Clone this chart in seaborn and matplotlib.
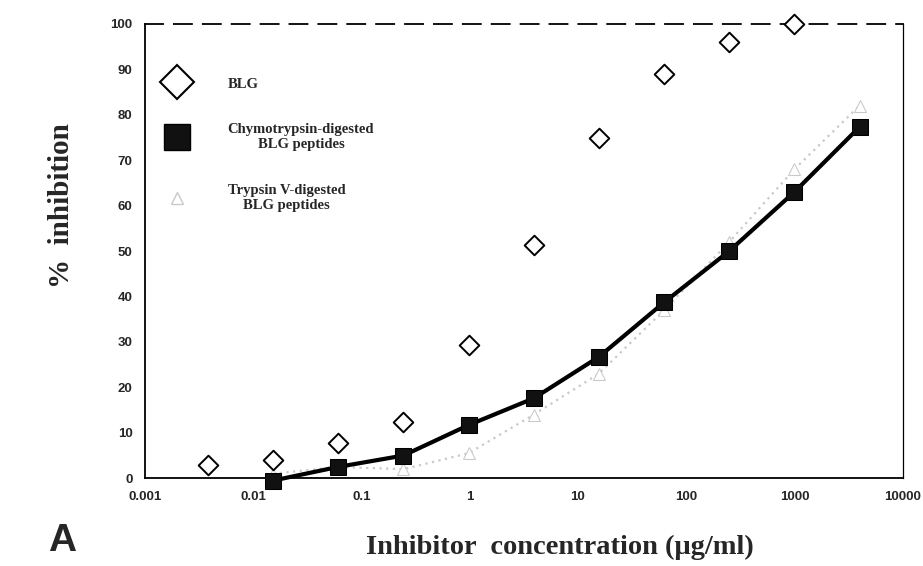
"""
Inhibition curves for BLG and digested BLG peptides (panel A).
"""

import matplotlib
matplotlib.use("Agg")

import matplotlib.pyplot as plt
import seaborn as sns
from matplotlib.lines import Line2D

# Data (4-fold dilution series, ug/ml)
blg_conc = [0.0038, 0.0153, 0.061, 0.244, 0.977, 3.91, 15.6, 62.5, 250, 1000]
blg_inhib = [2.9, 4.0, 7.7, 12.3, 29.3, 51.3, 74.9, 89.0, 96.0, 100.0]

pep_conc = [0.0153, 0.061, 0.244, 0.977, 3.91, 15.6, 62.5, 250, 1000, 4000]
chymo_inhib = [-0.5, 2.5, 5.0, 11.7, 17.6, 26.7, 38.7, 50.0, 63.0, 77.3]
trypsin_inhib = [1.0, 2.5, 2.0, 5.5, 14.0, 23.0, 37.0, 52.0, 68.0, 82.0]

x_ticks = [0.001, 0.01, 0.1, 1, 10, 100, 1000, 10000]
x_tick_labels = ["0.001", "0.01", "0.1", "1", "10", "100", "1000", "10000"]
y_ticks = list(range(0, 101, 10))

TRYPSIN_GREY = "#c9c9c9"

sns.set_style("white")
plt.rcParams["font.family"] = ["Liberation Sans", "DejaVu Sans"]

fig = plt.figure(figsize=(9.23, 5.66), dpi=100)
ax = fig.add_axes([0.157, 0.155, 0.821, 0.803])

# Trypsin V-digested peptides (faint grey dotted)
sns.lineplot(
    x=pep_conc, y=trypsin_inhib, ax=ax, color=TRYPSIN_GREY,
    linestyle=(0, (1, 2)), linewidth=1.6, marker="^", markersize=8,
    markerfacecolor="white", markeredgecolor=TRYPSIN_GREY, zorder=2,
    clip_on=False,
)

# Chymotrypsin-digested peptides (black squares + solid line)
sns.lineplot(
    x=pep_conc, y=chymo_inhib, ax=ax, color="black", linewidth=3,
    marker="s", markersize=11, markerfacecolor="#111111",
    markeredgecolor="black", zorder=3, clip_on=False,
)

# Intact BLG (open diamonds)
sns.scatterplot(
    x=blg_conc, y=blg_inhib, ax=ax, marker="D", s=100,
    facecolor="white", edgecolor="black", linewidth=1.4, zorder=4,
    clip_on=False,
)

ax.set_xscale("log")
ax.set_xlim(0.001, 10000)
ax.set_ylim(0, 100)
ax.set_xticks(x_ticks)
ax.set_xticklabels(x_tick_labels)
ax.set_yticks(y_ticks)
ax.minorticks_off()
ax.tick_params(axis="both", length=0, pad=9, labelsize=9.5)
for lab in ax.get_xticklabels() + ax.get_yticklabels():
    lab.set_fontweight("bold")

for side in ["left", "bottom", "right"]:
    ax.spines[side].set_color("black")
    ax.spines[side].set_linewidth(1.3)
ax.spines["right"].set_linewidth(0.9)
ax.spines["top"].set_color("black")
ax.spines["top"].set_linewidth(1.3)
ax.spines["top"].set_linestyle((0, (10, 6)))

serif = ["Liberation Serif", "DejaVu Serif"]
ax.set_xlabel("Inhibitor  concentration (\u03bcg/ml)", fontsize=20.5,
              fontweight="bold", family=serif)
ax.set_ylabel("%  inhibition", fontsize=21, fontweight="bold", family=serif)
ax.xaxis.set_label_coords(0.547, -0.125)
ax.yaxis.set_label_coords(-0.092, 0.6)

# Legend
handles = [
    Line2D([], [], linestyle="none", marker="D", markersize=17,
           markerfacecolor="white", markeredgecolor="black", markeredgewidth=1.5),
    Line2D([], [], linestyle="none", marker="s", markersize=19,
           markerfacecolor="#111111", markeredgecolor="black"),
    Line2D([], [], linestyle="none", marker="^", markersize=9,
           markerfacecolor="white", markeredgecolor=TRYPSIN_GREY),
]
labels = ["BLG", "Chymotrypsin-digested\nBLG peptides",
          "Trypsin V-digested\nBLG peptides"]
leg = ax.legend(
    handles, labels, loc="upper left", bbox_to_anchor=(0.015, 0.895),
    frameon=False, handletextpad=2.5, labelspacing=2.25, borderaxespad=0,
    prop={"family": serif, "weight": "bold", "size": 10.5},
)
for txt in leg.get_texts():
    txt.set_multialignment("center")

fig.text(0.067, 0.045, "A", fontsize=28, fontweight="bold",
         family=["Liberation Sans", "DejaVu Sans"], ha="center", va="center")

fig.savefig("out.png", dpi=100)
plt.close(fig)
